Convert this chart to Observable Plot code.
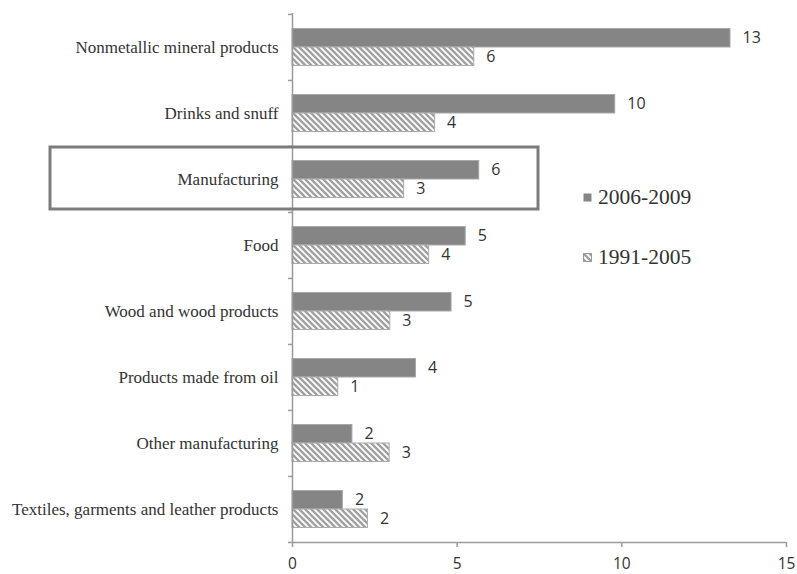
<!DOCTYPE html>
<html><head><meta charset="utf-8">
<script src="https://cdn.jsdelivr.net/npm/d3@7"></script>
<script src="https://cdn.jsdelivr.net/npm/@observablehq/plot@0.6"></script>
<style>
body{margin:0;background:#fff;}
#wrap{position:relative;width:797px;height:574px;}
#wrap svg.chart [aria-label^="y-axis"] text{font-family:"Liberation Serif",serif;font-size:17px;fill:#333;}
#wrap svg.chart [aria-label^="x-axis"] text{font-family:"Open Sans",sans-serif;font-size:15.5px;fill:#333;}
#wrap svg.chart [aria-label^="x-axis"] path,#wrap svg.chart [aria-label^="x-axis"] line{stroke:#9a9a9a;stroke-width:1.5px;}
.legend{position:absolute;left:583px;font-family:"Liberation Serif",serif;font-size:21.5px;color:#333;display:flex;align-items:center;}
.legend svg{margin-right:6px;}
</style></head><body><div id="wrap"></div>
<script>
const categories = ["Nonmetallic mineral products","Drinks and snuff","Manufacturing","Food","Wood and wood products","Products made from oil","Other manufacturing","Textiles, garments and leather products"];
const series = ["2006-2009","1991-2005"];
const values2006 = [13.3, 9.8, 5.67, 5.26, 4.83, 3.75, 1.82, 1.53];
const values1991 = [5.52, 4.33, 3.39, 4.15, 2.97, 1.39, 2.95, 2.29];
const xTicks = [0, 5, 10, 15];
const highlight = ["Manufacturing"];

const rows2006 = categories.map((c, i) => ({category: c, series: series[0], value: values2006[i]}));
const rows1991 = categories.map((c, i) => ({category: c, series: series[1], value: values1991[i]}));

const W = 797, H = 574, mT = 13, mB = 32, mL = 292, mR = 11;
const step = (H - mT - mB) / categories.length;
const axisColor = "#9a9a9a";

const chart = Plot.plot({
  width: W, height: H, marginTop: mT, marginBottom: mB, marginLeft: mL, marginRight: mR,
  className: "chart",
  style: {background: "#fff", color: "#333", fontFamily: "Open Sans, sans-serif", fontSize: "16px", overflow: "visible"},
  x: {domain: [0, 15], ticks: xTicks, tickSize: 5, tickPadding: 10, label: null},
  y: {domain: categories, padding: 0, tickSize: 0, tickPadding: 14, label: null},
  marks: [
    Plot.barX(rows2006, {x: "value", y: "category", fill: "#858585", stroke: "#a8a8a8", strokeWidth: 1, insetTop: 14.5, insetBottom: 33}),
    Plot.barX(rows1991, {x: "value", y: "category", fill: "url(#hatch)", stroke: "#ababab", strokeWidth: 1, insetTop: 33, insetBottom: 14.5}),
    Plot.text(rows2006, {x: "value", y: "category", text: d => Math.round(d.value), dx: 12, dy: -9.5, textAnchor: "start", fill: "#333", fontSize: 16}),
    Plot.text(rows1991, {x: "value", y: "category", text: d => Math.round(d.value), dx: 12, dy: 9.5, textAnchor: "start", fill: "#333", fontSize: 16}),
    Plot.ruleX([0], {stroke: axisColor, strokeWidth: 1.5}),
    Plot.ruleY(categories, {y: d => d, x1: 0, x2: 0, insetLeft: -4, dy: -step / 2, stroke: axisColor, strokeWidth: 1.5}),
    Plot.ruleY(categories.slice(-1), {y: d => d, insetLeft: -4, dy: step / 2, stroke: axisColor, strokeWidth: 1.5}),
    Plot.cell(highlight, {y: d => d, fill: "none", stroke: "#7c7c7c", strokeWidth: 3, insetLeft: 50 - mL, insetRight: (W - mR) - 538, insetTop: 1, insetBottom: 3})
  ]
});

d3.select(chart).insert("defs", ":first-child").html(
  `<pattern id="hatch" patternUnits="userSpaceOnUse" width="6" height="6">
     <rect width="6" height="6" fill="#fff"/>
     <path d="M-1.5,4.5 l3,3 M0,0 l6,6 M4.5,-1.5 l3,3" stroke="#a0a0a0" stroke-width="2.4"/>
   </pattern>`);

const wrap = document.getElementById("wrap");
wrap.appendChild(chart);

const legendItems = [
  {label: series[0], fill: "#858585", stroke: "none", top: 185},
  {label: series[1], fill: "url(#hatch)", stroke: "#9a9a9a", top: 245}
];
for (const it of legendItems) {
  const div = document.createElement("div");
  div.className = "legend";
  div.style.top = it.top + "px";
  div.innerHTML = `<svg width="9" height="9"><rect x="0.5" y="0.5" width="8" height="8" fill="${it.fill}" stroke="${it.stroke}"/></svg><span>${it.label}</span>`;
  wrap.appendChild(div);
}
</script></body></html>
